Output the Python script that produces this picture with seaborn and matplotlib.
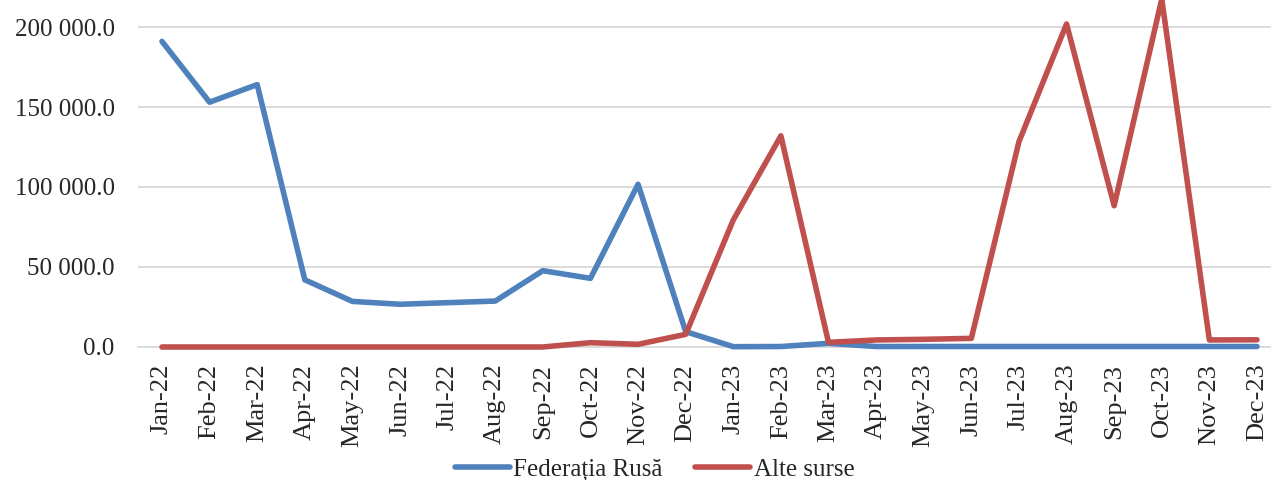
import pandas as pd
import matplotlib
matplotlib.use("Agg")
import matplotlib.pyplot as plt
import matplotlib.ticker as mticker
import seaborn as sns

# lunile (categorii pe axa X)
months = ["Jan-22", "Feb-22", "Mar-22", "Apr-22", "May-22", "Jun-22",
          "Jul-22", "Aug-22", "Sep-22", "Oct-22", "Nov-22", "Dec-22",
          "Jan-23", "Feb-23", "Mar-23", "Apr-23", "May-23", "Jun-23",
          "Jul-23", "Aug-23", "Sep-23", "Oct-23", "Nov-23", "Dec-23"]

# valori
federatia_rusa = [191000, 153000, 164000, 42000, 28500, 26700,
                  27700, 28700, 47700, 42900, 101700, 9600,
                  200, 300, 2300, 300, 300, 300,
                  300, 300, 300, 300, 300, 300]
alte_surse = [0, 0, 0, 0, 0, 0,
              0, 0, 0, 2700, 1700, 7900,
              79400, 132000, 2900, 4400, 4800, 5400,
              128300, 201900, 88300, 217500, 4400, 4500]

series_names = ["Federația Rusă", "Alte surse"]
colors = ["#4F81BD", "#C0504D"]
y_ticks = [0, 50000, 100000, 150000, 200000]

df = pd.DataFrame({
    "luna": months * 2,
    "pos": list(range(len(months))) * 2,
    "valoare": federatia_rusa + alte_surse,
    "sursa": [series_names[0]] * len(months) + [series_names[1]] * len(months),
})

sns.set_style("white")
plt.rcParams["font.family"] = ["Liberation Serif", "DejaVu Serif"]

fig = plt.figure(figsize=(12.71, 4.8), dpi=100)
# axa depaseste putin marginile imaginii (graficul original e decupat)
ax = fig.add_axes([0.1087, 0.2771, 0.899, 0.8333])

sns.lineplot(data=df, x="pos", y="valoare", hue="sursa", hue_order=series_names,
             palette=colors, linewidth=4.0, ax=ax, legend=False,
             solid_capstyle="round", solid_joinstyle="round")
for line in ax.lines:
    line.set_clip_on(False)
    line.set_zorder(3)

ax.set_xlim(-0.5, len(months) - 0.5)
ax.set_ylim(0, 250000)
ax.set_yticks(y_ticks)
ax.yaxis.set_major_formatter(mticker.FuncFormatter(
    lambda v, p: f"{v:,.1f}".replace(",", " ")))
ax.set_xticks(range(len(months)))
ax.set_xticklabels(months, rotation=90)
ax.set_xticks([i - 0.5 for i in range(len(months) + 1)], minor=True)
ax.tick_params(axis="x", which="major", length=0, pad=12, labelsize=19)
ax.tick_params(axis="x", which="minor", length=6, color="#D9D9D9", width=1)
ax.tick_params(axis="y", length=0, pad=17, labelsize=18)
ax.set_xlabel("")
ax.set_ylabel("")

ax.grid(axis="y", color="#D9D9D9", linewidth=1.3)
ax.set_axisbelow(True)
for side in ["top", "right", "left"]:
    ax.spines[side].set_visible(False)
ax.spines["bottom"].set_color("#D9D9D9")
ax.spines["bottom"].set_linewidth(1.3)

handles = [plt.Line2D([], [], color=c, linewidth=4.0, solid_capstyle="round")
           for c in colors]
fig.legend(handles, series_names, loc="center", bbox_to_anchor=(0.515, 0.022),
           ncol=2, frameon=False, fontsize=18, handlelength=2.2,
           handletextpad=0.15, columnspacing=1.3)

fig.savefig("out.png", dpi=100)
